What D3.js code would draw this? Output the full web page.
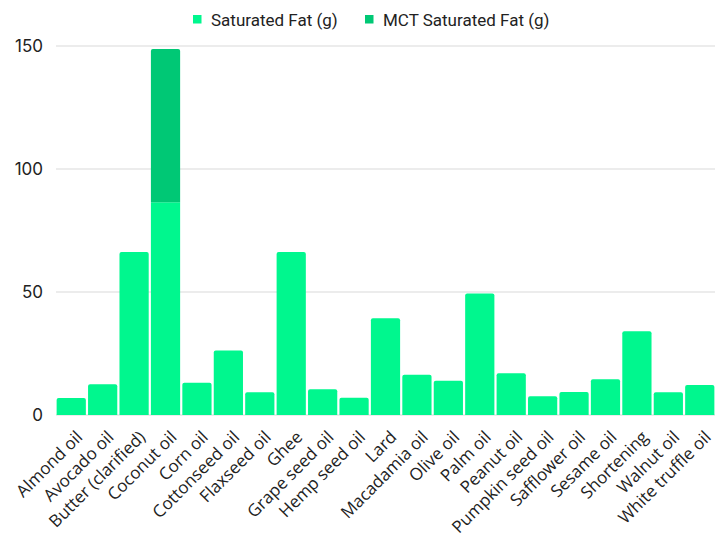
<!DOCTYPE html>
<html><head><meta charset="utf-8">
<script src="https://cdn.jsdelivr.net/npm/d3@7"></script>
<style>body{margin:0;background:#fff}</style>
</head><body>
<svg id="c" width="724" height="543"></svg>
<script>
const categories = ["Almond oil","Avocado oil","Butter (clarified)","Coconut oil","Corn oil","Cottonseed oil","Flaxseed oil","Ghee","Grape seed oil","Hemp seed oil","Lard","Macadamia oil","Olive oil","Palm oil","Peanut oil","Pumpkin seed oil","Safflower oil","Sesame oil","Shortening","Walnut oil","White truffle oil"];
const saturatedFat = [6.9,12.5,66.3,86.5,13.1,26.2,9.2,66.3,10.5,7.0,39.3,16.4,13.9,49.4,17.0,7.6,9.3,14.5,34.0,9.2,12.2];
const mctFat = [0,0,0,62.3,0,0,0,0,0,0,0,0,0,0,0,0,0,0,0,0,0];
const seriesNames = ["Saturated Fat (g)","MCT Saturated Fat (g)"];
const colors = ["#00f78e","#00c875"];
const yTicks = [0,50,100,150];

const svg = d3.select("#c");
const m = {l:56, r:9, t:46, b:128};
const W = 724, H = 543;
const x = d3.scaleBand().domain(categories).range([m.l, W-m.r]).paddingInner(0.07).paddingOuter(0.02);
const y = d3.scaleLinear().domain([0,150]).range([H-m.b, m.t]);

const g = svg.append("g");
g.selectAll("line.grid").data(yTicks).join("line")
  .attr("x1", m.l).attr("x2", W-m.r)
  .attr("y1", d=>y(d)).attr("y2", d=>y(d))
  .attr("stroke", "#d9d9d9").attr("stroke-width", 1);

const yAxis = d3.axisLeft(y).tickValues(yTicks).tickSize(0).tickPadding(13);
const ya = svg.append("g").attr("transform", `translate(${m.l},0)`).call(yAxis);
ya.select(".domain").remove();
ya.selectAll("text").attr("font-family","Inter, sans-serif").attr("font-size",17).attr("fill","#222");

const data = categories.map((c,i)=>({cat:c, a:saturatedFat[i], b:mctFat[i]}));
const stack = d3.stack().keys(["a","b"])(data);

function roundTopPath(x0, w, yTop, yBot, r) {
  r = Math.min(r, w/2, (yBot-yTop));
  return `M${x0},${yBot}V${yTop+r}Q${x0},${yTop} ${x0+r},${yTop}H${x0+w-r}Q${x0+w},${yTop} ${x0+w},${yTop+r}V${yBot}Z`;
}

stack.forEach((s, si) => {
  svg.append("g").selectAll("path").data(s.filter(d=>d[1]-d[0]>0)).join("path")
    .attr("fill", colors[si])
    .attr("d", d => {
      const isTop = si === 1 || d.data.b === 0;
      const x0 = x(d.data.cat), w = x.bandwidth();
      const yt = y(d[1]), yb = y(d[0]);
      return isTop ? roundTopPath(x0, w, yt, yb, 2) : `M${x0},${yb}V${yt}H${x0+w}V${yb}Z`;
    });
});

const xa = svg.append("g").attr("transform", `translate(0,${H-m.b})`)
  .call(d3.axisBottom(x).tickSize(0).tickPadding(0));
xa.select(".domain").remove();
xa.selectAll("text")
  .attr("font-family","'Open Sans', sans-serif").attr("font-size",17).attr("fill","#222")
  .attr("text-anchor","end")
  .attr("dy","0.35em")
  .attr("transform", "translate(8,19) rotate(-45)");

const leg = svg.append("g");
const legItems = [{n:seriesNames[0], c:colors[0], x:193},{n:seriesNames[1], c:colors[1], x:365}];
legItems.forEach(it=>{
  leg.append("rect").attr("x", it.x).attr("y", 15).attr("width", 8.5).attr("height", 8.5).attr("fill", it.c);
  leg.append("text").attr("x", it.x+18).attr("y", 20).attr("dy","0.35em")
    .attr("font-family","Roboto, sans-serif").attr("font-size",17).attr("fill","#222").text(it.n);
});
</script>
</body></html>
